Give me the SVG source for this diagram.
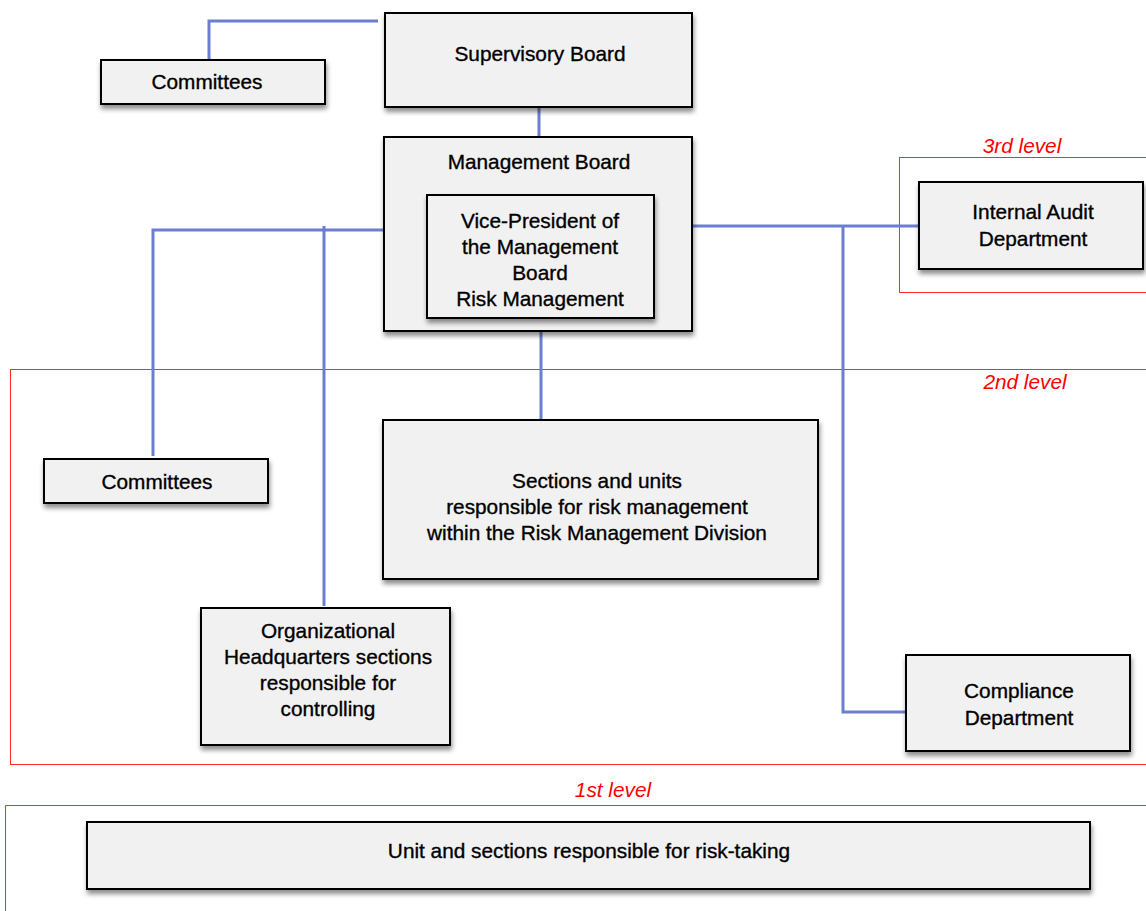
<svg xmlns="http://www.w3.org/2000/svg" width="1146" height="911" viewBox="0 0 1146 911">
<defs>
<filter id="sh" x="-10%" y="-20%" width="130%" height="150%">
<feGaussianBlur in="SourceAlpha" stdDeviation="2.5"/>
<feOffset dx="1" dy="4" result="b"/>
<feComponentTransfer><feFuncA type="linear" slope="0.45"/></feComponentTransfer>
<feMerge><feMergeNode/><feMergeNode in="SourceGraphic"/></feMerge>
</filter>
</defs>
<style>
.box{fill:#f1f1f1;stroke:#000;stroke-width:2;filter:url(#sh)}
.t{font-family:"Liberation Sans",Arial,sans-serif;font-size:20.8px;fill:#000;stroke:#000;stroke-width:0.35;text-anchor:middle}
.lvl{fill:none;stroke:#ff2a2a;stroke-width:1}
.lt{font-family:"Liberation Sans",Arial,sans-serif;font-size:20.8px;font-style:italic;fill:#ff0000;text-anchor:middle}
.c{fill:none;stroke:#6a7fd0;stroke-width:3}
</style>
<rect width="1146" height="911" fill="#fff"/>
<g id="levels">
<rect class="lvl" x="899.5" y="157.5" width="250" height="135"/>
<text class="lt" x="1022" y="153">3rd level</text>
<rect class="lvl" x="10.5" y="369.5" width="1140" height="395"/>
<text class="lt" x="1025" y="389">2nd level</text>
<path class="lvl" d="M5.5,911 V805.5 H1150"/>
<text class="lt" x="613" y="797">1st level</text>
</g>
<g id="connectors">
<path class="c" d="M209,60 V21 H378"/>
<path class="c" d="M539,107 V137"/>
<path class="c" d="M541,318 V420"/>
<path class="c" d="M384,230 H153 V456"/>
<path class="c" d="M324,226 V606"/>
<path class="c" d="M692,226 H918"/>
<path class="c" d="M843,226 V712 H906"/>
</g>
<g id="supervisory-board">
<rect class="box" x="385" y="13" width="307" height="94"/>
<text class="t" x="540" y="61">Supervisory Board</text>
</g>
<g id="committees-top">
<rect class="box" x="101" y="60" width="224" height="44"/>
<text class="t" x="207" y="89">Committees</text>
</g>
<g id="management-board">
<rect class="box" x="384" y="137" width="308" height="194"/>
<text class="t" x="539" y="169">Management Board</text>
</g>
<g id="vice-president">
<rect class="box" x="427" y="195" width="227" height="123"/>
<text class="t" x="540" y="228">Vice-President of</text>
<text class="t" x="540" y="254">the Management</text>
<text class="t" x="540" y="280">Board</text>
<text class="t" x="540" y="306">Risk Management</text>
</g>
<g id="internal-audit">
<rect class="box" x="919" y="182" width="224" height="87"/>
<text class="t" x="1033" y="219">Internal Audit</text>
<text class="t" x="1033" y="246">Department</text>
</g>
<g id="committees-mid">
<rect class="box" x="44" y="459" width="224" height="44"/>
<text class="t" x="157" y="489">Committees</text>
</g>
<g id="sections-risk">
<rect class="box" x="383" y="420" width="435" height="159"/>
<text class="t" x="597" y="488">Sections and units</text>
<text class="t" x="597" y="514">responsible for risk management</text>
<text class="t" x="597" y="540">within the Risk Management Division</text>
</g>
<g id="org-hq">
<rect class="box" x="201" y="608" width="249" height="137"/>
<text class="t" x="328" y="638">Organizational</text>
<text class="t" x="328" y="664">Headquarters sections</text>
<text class="t" x="328" y="690">responsible for</text>
<text class="t" x="328" y="716">controlling</text>
</g>
<g id="compliance">
<rect class="box" x="906" y="655" width="224" height="96"/>
<text class="t" x="1019" y="698">Compliance</text>
<text class="t" x="1019" y="725">Department</text>
</g>
<g id="risk-taking">
<rect class="box" x="87" y="822" width="1003" height="67"/>
<text class="t" x="589" y="858">Unit and sections responsible for risk-taking</text>
</g>
</svg>
